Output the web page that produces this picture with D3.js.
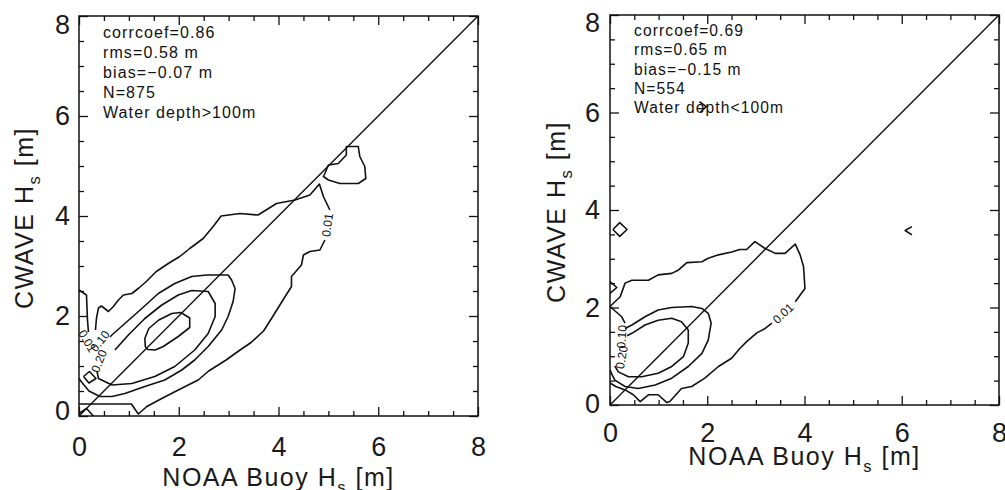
<!DOCTYPE html>
<html>
<head>
<meta charset="utf-8">
<script src="https://cdn.jsdelivr.net/npm/d3@7"></script>
<style>
  html, body { margin: 0; padding: 0; background: #fff; }
  svg { display: block; font-family: "Liberation Sans", Arial, Helvetica, sans-serif; }
</style>
</head>
<body>
<svg id="chart" width="1005" height="490"></svg>
<script>
// ---- shared axis setup (both panels use 0–8 m on each axis) ----
const axisDomain = [0, 8];
const majorTicks = [0, 2, 4, 6, 8];
const minorTicks = [0.5, 1, 1.5, 2.5, 3, 3.5, 4.5, 5, 5.5, 6.5, 7, 7.5];
const oneToOne = [0, 8];
const xTitle = ["NOAA Buoy H", "s", " [m]"];
const yTitle = ["CWAVE H", "s", " [m]"];

// ---- deep water (> 100 m) ----
const deepStats = ["corrcoef=0.86", "rms=0.58 m", "bias=\u22120.07 m", "N=875", "Water depth>100m"];

// 0.01 density contour, upper/left part up to the right-hand label
const deepC001a = [[0.33,1.72],[0.35,1.95],[0.39,2.16],[0.45,2.2],[0.59,2.09],[0.68,2.18],[0.79,2.32],[0.89,2.42],
  [1.06,2.45],[1.2,2.56],[1.35,2.69],[1.55,2.89],[1.79,3.05],[2.02,3.19],[2.22,3.35],[2.49,3.55],[2.69,3.79],
  [2.85,4.0],[3.23,4.05],[3.59,4.02],[3.96,4.25],[4.33,4.32],[4.63,4.42],[4.82,4.64],[4.9,4.39],[5.03,4.12]];
// 0.01 contour, lower/right part from the label back to the left edge
const deepC001b = [[4.93,3.52],[4.83,3.32],[4.63,3.29],[4.5,3.22],[4.46,3.02],[4.26,2.79],[4.26,2.59],[4.09,2.32],
  [3.86,1.95],[3.7,1.7],[3.45,1.47],[3.2,1.3],[2.95,1.12],[2.6,0.9],[2.39,0.72],[1.99,0.52],[1.66,0.35],
  [1.36,0.19],[1.19,0.04],[1.05,0.24],[0,0.24]];
// 0.01 contour piece hugging the y axis
const deepC001c = [[0,2.52],[0.15,2.42],[0.17,1.92],[0.19,1.68]];
// 0.01 contour corner piece at the origin
const deepC001d = [[0,0.05],[0.15,0.15],[0.29,0]];
// isolated 0.01 island near 5 m
const deepIsland = [[4.93,4.85],[5.0,5.02],[5.2,5.05],[5.36,5.22],[5.36,5.39],[5.6,5.39],[5.63,5.19],[5.73,4.99],
  [5.75,4.75],[5.6,4.65],[5.23,4.65],[5.0,4.72],[4.9,4.79],[4.93,4.85]];
// 0.10 contour
const deepC010 = [[0.62,1.58],[0.66,1.62],[0.92,1.85],[1.26,2.15],[1.59,2.45],[1.92,2.65],[2.26,2.79],[2.56,2.82],
  [2.99,2.82],[3.06,2.72],[3.13,2.55],[3.09,2.29],[2.99,1.99],[2.86,1.72],[2.59,1.39],[2.32,1.12],[2.06,0.92],
  [1.72,0.72],[1.32,0.59],[0.92,0.45],[0.66,0.39],[0.42,0.39],[0.2,0.5],[0.05,0.68],[0,0.75]];
// 0.20 contour
const deepC020 = [[0.72,1.32],[0.99,1.62],[1.32,1.95],[1.66,2.22],[1.99,2.42],[2.26,2.51],[2.59,2.49],[2.73,2.25],
  [2.73,1.99],[2.59,1.65],[2.32,1.32],[1.92,0.99],[1.52,0.79],[1.06,0.65],[0.66,0.62],[0.39,0.75],[0.36,0.9]];
// innermost contour
const deepCore = [[1.33,1.38],[1.32,1.55],[1.4,1.75],[1.6,1.92],[1.86,2.05],[2.04,2.07],[2.22,1.96],[2.22,1.77],
  [1.99,1.59],[1.69,1.39],[1.53,1.32],[1.38,1.33],[1.33,1.38]];
// small closed cell near the y axis
const deepCell = [[0.09,0.79],[0.21,0.89],[0.34,0.75],[0.2,0.66],[0.09,0.79]];
const deepLabels = [
  { text: "0.01", at: [4.98, 3.82], angle: -82 },
  { text: "0.10", at: [0.42, 1.5], angle: -52 },
  { text: "0.20", at: [0.4, 1.1], angle: -68 },
  { text: "0.01", at: [0.17, 1.5], angle: 60 }
];

// ---- shallow water (< 100 m) ----
const shallowStats = ["corrcoef=0.69", "rms=0.65 m", "bias=\u22120.15 m", "N=554", "Water depth<100m"];

const shallowC001a = [[0.31,1.68],[0.24,1.81],[0,2.02],[0.21,2.22],[0.31,2.5],[0.45,2.56],[0.79,2.56],[0.99,2.67],
  [1.27,2.7],[1.41,2.77],[1.58,2.92],[1.89,2.94],[2.02,3.01],[2.23,3.08],[2.5,3.14],[2.67,3.19],[2.81,3.19],
  [2.98,3.35],[3.19,3.21],[3.4,3.11],[3.6,3.11],[3.81,3.3],[3.91,3.08],[3.98,2.84],[4.01,2.39],[3.81,2.12]];
const shallowC001b = [[3.33,1.68],[3.19,1.57],[3.02,1.48],[2.81,1.3],[2.67,1.16],[2.5,0.96],[2.23,0.79],[1.95,0.55],
  [1.68,0.38],[1.47,0.34],[1.23,0.07],[1.17,0.05],[0.99,0.21],[0.79,0.21],[0.62,0.07],[0.48,0.21],[0.31,0.31],
  [0.12,0.38],[0,0.45]];
const shallowC010 = [[0.31,1.57],[0.45,1.64],[0.72,1.81],[0.99,1.95],[1.27,2.0],[1.68,2.02],[1.89,1.98],[2.02,1.88],
  [2.08,1.68],[2.02,1.33],[1.89,1.06],[1.61,0.79],[1.27,0.55],[0.93,0.41],[0.58,0.34],[0.31,0.38],[0.1,0.51],
  [0.03,0.65],[0,0.72]];
const shallowC020 = [[0.35,1.42],[0.45,1.47],[0.72,1.64],[0.99,1.74],[1.27,1.78],[1.47,1.71],[1.61,1.54],[1.61,1.27],
  [1.51,0.99],[1.27,0.79],[0.99,0.65],[0.65,0.58],[0.38,0.58],[0.17,0.68],[0.1,0.8]];
// isolated cells
const shallowCellA = [[0.06,3.6],[0.2,3.74],[0.35,3.6],[0.2,3.46],[0.06,3.6]];
const shallowCellB = [[0,2.53],[0.14,2.41],[0,2.29]];
const shallowCellC = [[6.21,3.66],[6.07,3.58],[6.21,3.49]];
const shallowCellD = [[1.84,6.22],[1.98,6.12],[1.86,6.01]];
const shallowLabels = [
  { text: "0.01", at: [3.56, 1.88], angle: -43 },
  { text: "0.10", at: [0.24, 1.4], angle: -86 },
  { text: "0.20", at: [0.24, 0.98], angle: -80 }
];

// ---- panel layout ----
const panels = [
  {
    id: "deep", left: 79, top: 16, width: 399, height: 400,
    tickFont: 27, xTickGap: 21, yTickGap: 9, topDy: "0.64em", bottomDy: "0.14em",
    titleFont: 25, xTitleBase: 470, yTitleBase: -46, yTitleMid: 202,
    stats: deepStats, statsX: 24, statsY: 22, statsStep: 20, statsFont: 16,
    lines: [deepC001a, deepC001b, deepC001c, deepC001d, deepIsland, deepC010, deepC020, deepCore, deepCell],
    labels: deepLabels
  },
  {
    id: "shallow", left: 610, top: 15, width: 389, height: 390,
    tickFont: 27, xTickGap: 18, yTickGap: 10, topDy: "0.62em", bottomDy: "0.26em",
    titleFont: 25, xTitleBase: 450, yTitleBase: -45, yTitleMid: 197,
    stats: shallowStats, statsX: 24, statsY: 21, statsStep: 19.3, statsFont: 15.6,
    lines: [shallowC001a, shallowC001b, shallowC010, shallowC020, shallowCellA, shallowCellB, shallowCellC, shallowCellD],
    labels: shallowLabels
  }
];

const svg = d3.select("#chart");
const ink = "#111";

function titleText(sel, parts, size) {
  sel.append("tspan").text(parts[0]);
  sel.append("tspan").text(parts[1]).attr("font-size", size * 0.66).attr("dy", size * 0.28);
  sel.append("tspan").text(parts[2]).attr("dy", -size * 0.28);
}

panels.forEach(p => {
  const g = svg.append("g").attr("transform", `translate(${p.left},${p.top})`);
  const x = d3.scaleLinear().domain(axisDomain).range([0, p.width]);
  const y = d3.scaleLinear().domain(axisDomain).range([p.height, 0]);
  const line = d3.line().x(d => x(d[0])).y(d => y(d[1]));

  g.append("clipPath").attr("id", "clip-" + p.id)
    .append("rect").attr("width", p.width).attr("height", p.height);
  const plot = g.append("g").attr("clip-path", `url(#clip-${p.id})`);

  // 1:1 reference line
  plot.append("path")
    .attr("d", line(oneToOne.map(v => [v, v])))
    .attr("fill", "none").attr("stroke", ink).attr("stroke-width", 1.4);

  // density contours
  plot.selectAll("path.contour").data(p.lines).join("path")
    .attr("class", "contour")
    .attr("d", line)
    .attr("fill", "none").attr("stroke", ink).attr("stroke-width", 1.6)
    .attr("stroke-linejoin", "round");

  // contour labels
  g.selectAll("text.clabel").data(p.labels).join("text")
    .attr("class", "clabel")
    .attr("transform", d => `translate(${x(d.at[0])},${y(d.at[1])}) rotate(${d.angle})`)
    .attr("text-anchor", "middle").attr("dy", "0.35em")
    .attr("font-size", 12).attr("fill", ink)
    .text(d => d.text);

  // frame
  g.append("rect").attr("width", p.width).attr("height", p.height)
    .attr("fill", "none").attr("stroke", ink).attr("stroke-width", 1.5);

  const styleAxis = a => {
    a.select(".domain").remove();
    a.selectAll(".tick line").attr("stroke", ink).attr("stroke-width", 1.3);
    a.selectAll("text").attr("font-size", p.tickFont).attr("fill", "#1a1a1a")
      .attr("font-family", "'Liberation Sans', Arial, sans-serif");
  };

  // major + minor ticks on all four sides, pointing inward
  const sides = [
    { make: d3.axisBottom, sc: x, tr: `translate(0,${p.height})`, labels: true },
    { make: d3.axisTop, sc: x, tr: "translate(0,0)", labels: false },
    { make: d3.axisLeft, sc: y, tr: "translate(0,0)", labels: true },
    { make: d3.axisRight, sc: y, tr: `translate(${p.width},0)`, labels: false }
  ];
  sides.forEach(s => {
    g.append("g").attr("transform", s.tr)
      .call(s.make(s.sc).tickValues(minorTicks).tickSize(-5).tickFormat(""))
      .call(styleAxis);
    const isLeft = s.make === d3.axisLeft;
    const ax = g.append("g").attr("transform", s.tr)
      .call(s.make(s.sc).tickValues(majorTicks).tickSize(-9)
        .tickPadding(isLeft ? p.yTickGap : p.xTickGap)
        .tickFormat(s.labels ? d3.format("d") : ""))
      .call(styleAxis);
    if (isLeft) {
      ax.selectAll("text").attr("dy", d => d === axisDomain[1] ? p.topDy : d === axisDomain[0] ? p.bottomDy : "0.32em");
    }
  });

  // axis titles
  const xt = g.append("text")
    .attr("x", p.width / 2).attr("y", p.xTitleBase)
    .attr("text-anchor", "middle").attr("font-size", p.titleFont)
    .attr("letter-spacing", 1.5).attr("fill", "#1a1a1a");
  titleText(xt, xTitle, p.titleFont);

  const yt = g.append("text")
    .attr("transform", `translate(${p.yTitleBase},${p.yTitleMid}) rotate(-90)`)
    .attr("text-anchor", "middle").attr("font-size", p.titleFont)
    .attr("letter-spacing", 1.5).attr("fill", "#1a1a1a");
  titleText(yt, yTitle, p.titleFont);

  // statistics block
  g.selectAll("text.stat").data(p.stats).join("text")
    .attr("class", "stat")
    .attr("x", p.statsX)
    .attr("y", (d, i) => p.statsY + i * p.statsStep)
    .attr("font-size", p.statsFont).attr("letter-spacing", 1.1)
    .attr("fill", ink)
    .text(d => d);
});
</script>
</body>
</html>
